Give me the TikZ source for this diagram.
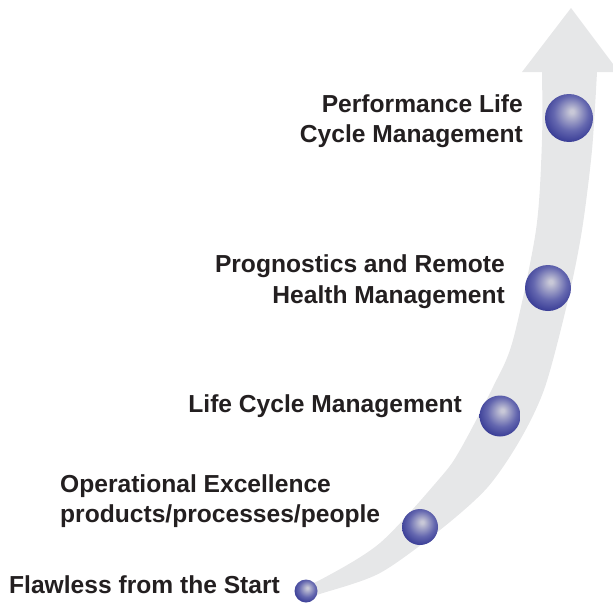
\documentclass[tikz,border=0pt]{standalone}
\usepackage{fontspec}
\setmainfont{Liberation Sans}
\definecolor{arrowgray}{HTML}{E6E7E8}
\definecolor{txt}{HTML}{231F20}
\definecolor{hl}{RGB}{200,200,215}
\definecolor{mid}{RGB}{100,103,175}
\definecolor{edge}{RGB}{40,44,140}
\pgfdeclareradialshading{sph}{\pgfqpoint{3bp}{7bp}}{color(0bp)=(hl); color(2bp)=(hl); color(18bp)=(mid); color(33bp)=(edge); color(60bp)=(edge)}
\tikzset{
  sphere/.style={circle, minimum size=#1, inner sep=0pt, shading=sph},
  lab/.style={font=\fontsize{24.6}{30}\selectfont\bfseries, text=txt, inner sep=0pt},
}
\begin{document}
\begin{tikzpicture}[x=1pt,y=-1pt]
\useasboundingbox (0,0) rectangle (613,605);
\fill[arrowgray] (522,72) -- (542,72)
  -- plot[smooth] coordinates {(542,72) (542,140) (536,230) (513,340) (493,387) (460,450) (440,478) (380,543) (320,580) (300,586)}
  -- plot[smooth] coordinates {(303,598) (323,593) (380,573) (440,530) (487,488) (520,440) (545,387) (568,300) (582,230) (592,150) (597,72)}
  -- (619,72) -- (571,8) -- cycle;
\node[sphere=48pt] (s1) at (569,118) {};
\node[sphere=46pt] (s2) at (548,288) {};
\node[sphere=41pt] (s3) at (500,416) {};
\node[sphere=36pt] (s4) at (420,527) {};
\node[sphere=23pt] (s5) at (306,591) {};
\node[lab, anchor=base east] (l1a) at (523,112) {Performance Life};
\node[lab, anchor=base east] (l1b) at (523,142) {Cycle Management};
\node[lab, anchor=base east] (l2a) at (505,272) {Prognostics and Remote};
\node[lab, anchor=base east] (l2b) at (505,303) {Health Management};
\node[lab, anchor=base east] (l3) at (462,412) {Life Cycle Management};
\node[lab, anchor=base west] (l4a) at (60,492) {Operational Excellence};
\node[lab, anchor=base west] (l4b) at (60,522) {products/processes/people};
\node[lab, anchor=base west] (l5) at (9,593) {Flawless from the Start};
\end{tikzpicture}
\end{document}
